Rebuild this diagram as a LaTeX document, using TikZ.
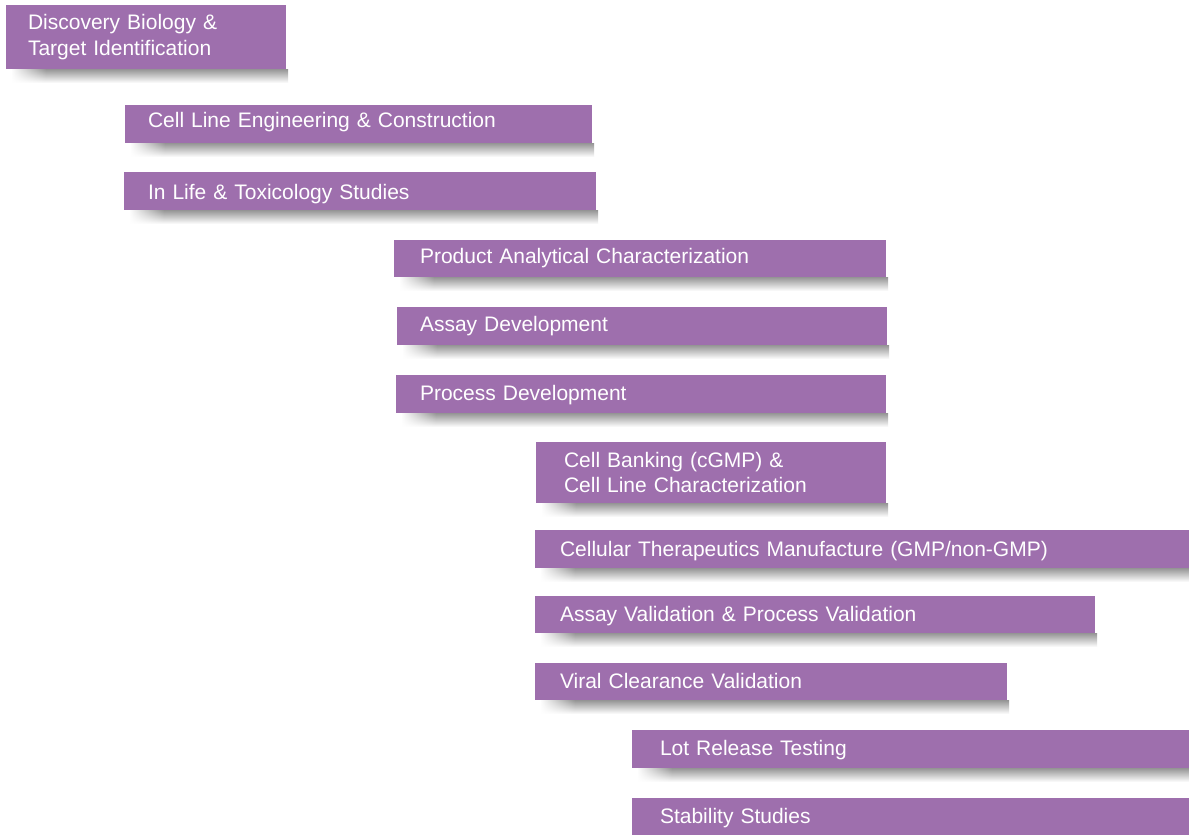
\documentclass[tikz,border=0pt]{standalone}
\usepackage{fontspec}
\setmainfont{Liberation Sans}
\usetikzlibrary{backgrounds,fadings}
\definecolor{barpurple}{RGB}{158,111,173}
\tikzset{stagebar/.style={fill=barpurple, text=white, anchor=north west, align=left,
  font=\fontsize{21}{25.5}\selectfont, inner ysep=0pt, outer sep=0pt},
  barshadow/.style={top color=black!42, bottom color=white},
  shadowfade/.style={fill=white, path fading=east}}
\newcommand\sh[2]{\raisebox{#1pt}[\height][\depth]{#2}}
\newcommand\stagebar[7]{%
  \pgfmathsetmacro\bw{#4-#2}\pgfmathsetmacro\bh{#5-#3}\pgfmathsetmacro\tw{#4-#2-2*#6}%
  \node[stagebar, minimum width=\bw pt, minimum height=\bh pt, inner xsep=#6pt, text width=\tw pt] (#1) at (#2pt,-#3pt) {#7};
  \begin{pgfonlayer}{background}
    \shade[barshadow] ([xshift=6pt]#1.south west) rectangle ([xshift=2pt,yshift=-14pt]#1.south east);
    \fill[shadowfade] ([xshift=5pt,yshift=1pt]#1.south west) rectangle ([xshift=40pt,yshift=-15pt]#1.south west);
  \end{pgfonlayer}}
\begin{document}
\begin{tikzpicture}
\begin{pgfonlayer}{background}
\fill[white] (0pt,0pt) rectangle (1189pt,-835pt);
\end{pgfonlayer}
\useasboundingbox (0pt,0pt) rectangle (1189pt,-835pt);
\stagebar{disc}{6}{5}{286}{69}{22}{Discovery Biology \&\\Target Identification}
\stagebar{cle}{125}{105}{592}{143}{23}{\sh{2}{Cell Line Engineering \& Construction}}
\stagebar{ilt}{124}{172}{596}{210}{24}{\sh{-3}{In Life \& Toxicology Studies}}
\stagebar{pac}{394}{240}{886}{277}{26}{Product Analytical Characterization}
\stagebar{ad}{397}{307}{887}{345}{23}{Assay Development}
\stagebar{pd}{396}{375}{886}{413}{24}{\sh{-1}{Process Development}}
\stagebar{cb}{536}{442}{886}{503}{28}{Cell Banking (cGMP) \&\\Cell Line Characterization}
\stagebar{ctm}{535}{530}{1189}{568}{25}{\sh{-2}{Cellular Therapeutics Manufacture (GMP/non-GMP)}}
\stagebar{av}{535}{596}{1095}{633}{25}{\sh{-2}{Assay Validation \& Process Validation}}
\stagebar{vcv}{535}{663}{1007}{700}{25}{\sh{1}{Viral Clearance Validation}}
\stagebar{lrt}{632}{730}{1189}{768}{28}{\sh{-1}{Lot Release Testing}}
\stagebar{ss}{632}{798}{1189}{835}{28}{\sh{-2}{Stability Studies}}
\end{tikzpicture}
\end{document}
